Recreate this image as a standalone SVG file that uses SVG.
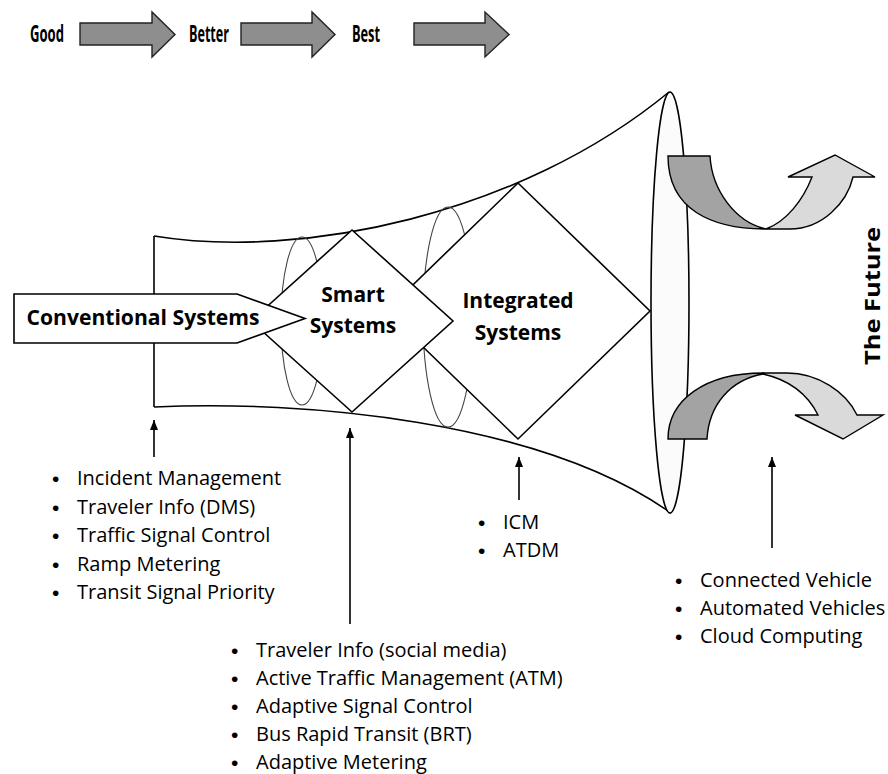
<svg xmlns="http://www.w3.org/2000/svg" width="888" height="774" viewBox="0 0 888 774">
<defs>
<style>
.bg{fill:#ffffff}
.ln{fill:none;stroke:#000;stroke-width:1.6}
.wf{fill:#ffffff;stroke:#000;stroke-width:1.6}
.el{fill:none;stroke:#444;stroke-width:1.1}
.gr{fill:#8e8e8e;stroke:#222;stroke-width:1.4}
.dk{fill:#a3a3a3;stroke:#000;stroke-width:1.4}
.lt{fill:#dadada;stroke:#000;stroke-width:1.4}
.hd{font-family:"Open Sans","Liberation Sans",sans-serif;font-weight:bold;font-size:21px;fill:#000}
.tp{font-family:"Open Sans","Liberation Sans",sans-serif;font-weight:bold;font-size:24px;fill:#000}
.li{font-family:"Open Sans","Liberation Sans",sans-serif;font-size:20px;fill:#000}
.bu{font-family:"Liberation Sans",sans-serif;font-size:21px;fill:#000}
.ptr{fill:none;stroke:#000;stroke-width:1.6;marker-end:url(#ah)}
</style>
<marker id="ah" viewBox="0 0 10 8" refX="10" refY="4" markerWidth="10" markerHeight="8" markerUnits="userSpaceOnUse" orient="auto">
<path d="M0,0 L10,4 L0,8 z" fill="#000"/>
</marker>
</defs>
<rect class="bg" x="0" y="0" width="888" height="774"/>

<g id="progress">
<text class="tp" x="30" y="42" textLength="34" lengthAdjust="spacingAndGlyphs">Good</text>
<path class="gr" d="M80,23 L152,23 L152,12 L175,34.5 L152,57 L152,45 L80,45 Z"/>
<text class="tp" x="189" y="42" textLength="40" lengthAdjust="spacingAndGlyphs">Better</text>
<path class="gr" d="M241,23 L312,23 L312,12 L335,34.5 L312,57 L312,45 L241,45 Z"/>
<text class="tp" x="352" y="42" textLength="28" lengthAdjust="spacingAndGlyphs">Best</text>
<path class="gr" d="M414,23 L485,23 L485,12 L509,34.5 L485,57 L485,45 L414,45 Z"/>
</g>

<g id="funnel">
<path class="ln" d="M154,236 C300,260 520,215 669,92"/>
<path class="ln" d="M154,407 C300,400 540,420 671,513"/>
<line class="ln" x1="154" y1="236" x2="154" y2="407"/>
<ellipse cx="670" cy="302.5" rx="19" ry="210.5" fill="#fbfbfb" stroke="#000" stroke-width="1.6"/>
</g>

<g id="integrated-systems">
<ellipse class="el" cx="448" cy="317" rx="25" ry="110"/>
<path class="wf" d="M518,183 L650,311 L518,439 L386,311 Z"/>
<text class="hd" x="518" y="308" text-anchor="middle">Integrated</text>
<text class="hd" x="518" y="340" text-anchor="middle">Systems</text>
</g>

<g id="smart-systems">
<ellipse class="el" cx="302" cy="321" rx="21" ry="84"/>
<path class="wf" d="M352,230 L453,321 L352,412 L251,321 Z"/>
<text class="hd" x="353" y="302" text-anchor="middle">Smart</text>
<text class="hd" x="353" y="333" text-anchor="middle">Systems</text>
</g>

<g id="conventional-systems">
<path class="wf" d="M14,294 L237,294 L305,318.5 L237,343 L14,343 Z"/>
<text class="hd" x="143" y="325" text-anchor="middle" font-size="22" textLength="233" lengthAdjust="spacingAndGlyphs">Conventional Systems</text>
</g>

<g id="future">
<path class="dk" d="M668,156 L710,156 C712,190 735,222 766,229 C712,229 668,210 668,156 Z"/>
<path class="lt" d="M766,229 L790,229 C822,229 847,203 853,177 L875,177 L835,155 L788,177 L812,177 C803,200 787,221 766,229 Z"/>
<path class="dk" d="M668,439 L707,439 C709,405 730,380 763,374 L763,373 C705,373 668,400 668,439 Z"/>
<path class="lt" d="M763,373 L787,373 C818,373 846,392 857,415 L883,415 L843,439 L795,415 L818,415 C808,395 790,380 763,374 Z"/>
<text class="hd" x="0" y="0" font-size="26" text-anchor="middle" textLength="138" lengthAdjust="spacingAndGlyphs" transform="translate(880,296) rotate(-90)">The Future</text>
</g>

<g id="connectors">
<line class="ptr" x1="154" y1="457" x2="154" y2="420"/>
<line class="ptr" x1="350" y1="624" x2="350" y2="428"/>
<line class="ptr" x1="519" y1="500" x2="519" y2="457"/>
<line class="ptr" x1="772" y1="548" x2="772" y2="457"/>
</g>

<g id="list-conventional">
<text class="bu" x="52" y="486">•</text><text class="li" x="77" y="485">Incident Management</text>
<text class="bu" x="52" y="514.5">•</text><text class="li" x="77" y="513.5">Traveler Info (DMS)</text>
<text class="bu" x="52" y="543">•</text><text class="li" x="77" y="542">Traffic Signal Control</text>
<text class="bu" x="52" y="571.5">•</text><text class="li" x="77" y="570.5">Ramp Metering</text>
<text class="bu" x="52" y="600">•</text><text class="li" x="77" y="599">Transit Signal Priority</text>
</g>

<g id="list-smart">
<text class="bu" x="231" y="658">•</text><text class="li" x="256" y="657">Traveler Info (social media)</text>
<text class="bu" x="231" y="686">•</text><text class="li" x="256" y="685">Active Traffic Management (ATM)</text>
<text class="bu" x="231" y="714">•</text><text class="li" x="256" y="713">Adaptive Signal Control</text>
<text class="bu" x="231" y="742">•</text><text class="li" x="256" y="741">Bus Rapid Transit (BRT)</text>
<text class="bu" x="231" y="770">•</text><text class="li" x="256" y="769">Adaptive Metering</text>
</g>

<g id="list-integrated">
<text class="bu" x="478" y="530">•</text><text class="li" x="503" y="529">ICM</text>
<text class="bu" x="478" y="558">•</text><text class="li" x="503" y="557">ATDM</text>
</g>

<g id="list-future">
<text class="bu" x="675" y="588">•</text><text class="li" x="700" y="587">Connected Vehicle</text>
<text class="bu" x="675" y="616">•</text><text class="li" x="700" y="615">Automated Vehicles</text>
<text class="bu" x="675" y="644">•</text><text class="li" x="700" y="643">Cloud Computing</text>
</g>
</svg>
